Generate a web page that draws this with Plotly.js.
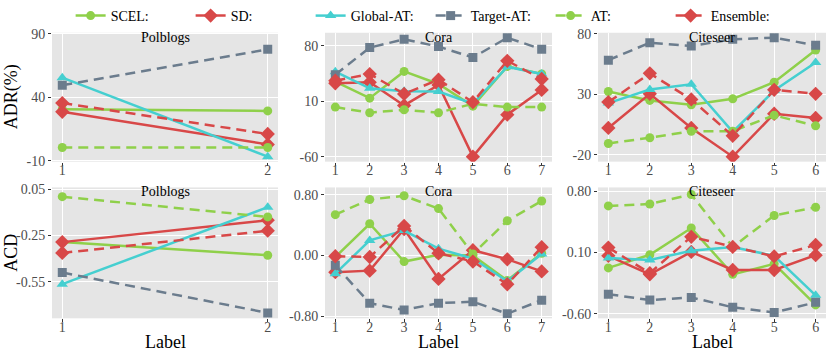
<!DOCTYPE html>
<html>
<head>
<meta charset="utf-8">
<script src="https://cdn.plot.ly/plotly-3.0.1.min.js"></script>
<style>
  html, body { margin: 0; padding: 0; background: #fff; }
  #chart { width: 831px; height: 353px; }
</style>
</head>
<body>
<div id="chart"></div>
<script>
// x labels per dataset
const polLabels = [1, 2];
const coraLabels = [1, 2, 3, 4, 5, 6, 7];
const citeLabels = [1, 2, 3, 4, 5, 6];

// ADR(%) - Polblogs
const adrPolScel = [30.5, 29.2];
const adrPolSd = [28.5, 2.8];
const adrPolGlobal = [55.4, -6.9];
const adrPolTarget = [49.5, 77.7];
const adrPolAt = [0.3, 0.3];
const adrPolEns = [35.4, 11.0];

// ADR(%) - Cora
const adrCoraScel = [34.9, 14.0, 47.8, 31.9, 3.9, 54.1, 44.5];
const adrCoraSd = [32.8, 34.0, 4.8, 30.7, -60.0, -6.9, 24.4];
const adrCoraGlobal = [47.4, 26.5, 22.7, 22.3, 6.9, 53.7, 44.5];
const adrCoraTarget = [43.6, 77.9, 88.4, 79.2, 65.4, 90.4, 75.8];
const adrCoraAt = [2.7, -4.4, -0.7, -4.4, 6.9, 2.7, 2.7];
const adrCoraEns = [36.1, 44.5, 19.4, 37.4, 8.9, 61.2, 38.2];

// ADR(%) - Citeseer
const adrCiteScel = [32.3, 25.0, 21.4, 26.3, 40.0, 66.6];
const adrCiteSd = [2.3, 30.4, 2.3, -21.4, 14.0, 10.5];
const adrCiteGlobal = [22.8, 34.0, 38.3, -0.9, 33.1, 56.3];
const adrCiteTarget = [58.2, 72.6, 69.9, 75.4, 76.7, 70.5];
const adrCiteAt = [-10.5, -5.8, -0.4, -0.4, 12.7, 4.0];
const adrCiteEns = [23.6, 47.3, 25.8, -4.2, 33.7, 30.4];

// ACD - Polblogs
const acdPolScel = [-0.293, -0.378];
const acdPolSd = [-0.293, -0.151];
const acdPolGlobal = [-0.565, -0.067];
const acdPolTarget = [-0.49, -0.751];
const acdPolAt = [0.001, -0.13];
const acdPolEns = [-0.363, -0.219];

// ACD - Cora
const acdCoraScel = [-0.02, 0.42, -0.08, 0.01, 0.0, -0.33, 0.03];
const acdCoraSd = [-0.22, -0.20, 0.35, -0.31, 0.07, -0.05, -0.21];
const acdCoraGlobal = [-0.24, 0.20, 0.33, 0.09, -0.04, -0.34, 0.02];
const acdCoraTarget = [-0.13, -0.63, -0.72, -0.63, -0.61, -0.77, -0.59];
const acdCoraAt = [0.54, 0.74, 0.79, 0.62, 0.02, 0.46, 0.72];
const acdCoraEns = [-0.01, -0.02, 0.39, 0.03, -0.08, -0.38, 0.11];

// ACD - Citeseer
const acdCiteScel = [-0.076, 0.074, 0.38, -0.15, -0.03, -0.50];
const acdCiteSd = [0.062, -0.15, 0.107, -0.10, -0.10, 0.07];
const acdCiteGlobal = [0.036, 0.014, 0.12, 0.164, 0.062, -0.39];
const acdCiteTarget = [-0.377, -0.444, -0.414, -0.527, -0.587, -0.47];
const acdCiteAt = [0.633, 0.655, 0.764, 0.164, 0.524, 0.618];
const acdCiteEns = [0.156, -0.136, 0.28, 0.164, 0.055, 0.186];

// y tick labels
const adrPolTicks = [-10, 40, 90];
const adrCoraTicks = [-60, 10, 80];
const adrCiteTicks = [-20, 30, 80];
const acdPolTicks = ['-0.55', '-0.25', '0.05'];
const acdCoraTicks = ['-0.80', '0.00', '0.80'];
const acdCiteTicks = ['-0.60', '0.10', '0.80'];

const datasetNames = ['Polblogs', 'Cora', 'Citeseer'];

const GREEN = '#8fd04a';
const RED = '#d84848';
const CYAN = '#45cfd0';
const SLATE = '#6b7c8d';
const SERIF = '"Liberation Serif", "DejaVu Serif", serif';

const seriesStyle = [
    { name: 'SCEL:', color: GREEN, dash: 'solid', symbol: 'circle', size: 9 },
    { name: 'SD:', color: RED, dash: 'solid', symbol: 'diamond', size: 11 },
    { name: 'Global-AT:', color: CYAN, dash: 'solid', symbol: 'triangle-up', size: 10 },
    { name: 'Target-AT:', color: SLATE, dash: '10px,6px', symbol: 'square', size: 9 },
    { name: 'AT:', color: GREEN, dash: '10px,6px', symbol: 'circle', size: 9 },
    { name: 'Ensemble:', color: RED, dash: '10px,6px', symbol: 'diamond', size: 11 }
];

// panels: [xLabels, series in style order]
const panels = [
    [polLabels, [adrPolScel, adrPolSd, adrPolGlobal, adrPolTarget, adrPolAt, adrPolEns]],
    [coraLabels, [adrCoraScel, adrCoraSd, adrCoraGlobal, adrCoraTarget, adrCoraAt, adrCoraEns]],
    [citeLabels, [adrCiteScel, adrCiteSd, adrCiteGlobal, adrCiteTarget, adrCiteAt, adrCiteEns]],
    [polLabels, [acdPolScel, acdPolSd, acdPolGlobal, acdPolTarget, acdPolAt, acdPolEns]],
    [coraLabels, [acdCoraScel, acdCoraSd, acdCoraGlobal, acdCoraTarget, acdCoraAt, acdCoraEns]],
    [citeLabels, [acdCiteScel, acdCiteSd, acdCiteGlobal, acdCiteTarget, acdCiteAt, acdCiteEns]]
];

const traces = [];
panels.forEach(([xs, series], p) => {
    const suffix = p === 0 ? '' : String(p + 1);
    series.forEach((ys, s) => {
        const st = seriesStyle[s];
        traces.push({
            x: xs,
            y: ys,
            type: 'scatter',
            mode: 'lines+markers',
            name: st.name,
            legendgroup: st.name,
            showlegend: p === 0,
            xaxis: 'x' + suffix,
            yaxis: 'y' + suffix,
            line: { color: st.color, width: 2.5, dash: st.dash },
            marker: { color: st.color, symbol: st.symbol, size: st.size }
        });
    });
});

const W = 831, H = 353;
const colPx = [[52, 278], [325, 552], [598, 826]];
const rowPx = [[30, 160], [186, 318]];
const xRanges = [[0.95, 2.05], [0.7, 7.3], [0.75, 6.25]];
const yRanges = [[-10.8, 90.8], [-66.3, 96.7], [-25.5, 80.8], [-0.786, 0.061], [-0.83, 0.9], [-0.653, 0.845]];
const yTickVals = [adrPolTicks, adrCoraTicks, adrCiteTicks,
    acdPolTicks.map(Number), acdCoraTicks.map(Number), acdCiteTicks.map(Number)];
const yTickText = [adrPolTicks.map(String), adrCoraTicks.map(String), adrCiteTicks.map(String),
    acdPolTicks, acdCoraTicks, acdCiteTicks];
const xTicks = [polLabels, coraLabels, citeLabels];

const layout = {
    width: W,
    height: H,
    margin: { l: 0, r: 0, t: 0, b: 0 },
    paper_bgcolor: '#ffffff',
    plot_bgcolor: '#e5e5e5',
    font: { family: SERIF, color: '#000' },
    showlegend: true,
    legend: {
        orientation: 'h',
        x: 0.085,
        xanchor: 'left',
        y: 1 - 13 / H,
        yanchor: 'middle',
        font: { family: SERIF, size: 14, color: '#000' },
        entrywidth: 75,
        entrywidthmode: 'pixels',
        bgcolor: 'rgba(0,0,0,0)'
    },
    annotations: [],
    hovermode: false
};

for (let p = 0; p < 6; p++) {
    const col = p % 3, row = Math.floor(p / 3);
    const suffix = p === 0 ? '' : String(p + 1);
    const [x0, x1] = colPx[col];
    const [y0, y1] = rowPx[row];
    layout['xaxis' + suffix] = {
        domain: [x0 / W, x1 / W],
        anchor: 'y' + suffix,
        range: xRanges[col],
        tickvals: xTicks[col],
        ticktext: xTicks[col].map(String),
        ticks: 'outside',
        ticklen: 3,
        tickcolor: '#333',
        ticklabelstandoff: -7,
        showgrid: true,
        gridcolor: '#ffffff',
        gridwidth: 1,
        zeroline: false,
        showline: false,
        tickfont: { family: SERIF, size: 14, color: '#4d4d4d' },
        fixedrange: true
    };
    layout['yaxis' + suffix] = {
        domain: [1 - y1 / H, 1 - y0 / H],
        anchor: 'x' + suffix,
        range: yRanges[p],
        tickvals: yTickVals[p],
        ticktext: yTickText[p],
        ticks: 'outside',
        ticklen: 3,
        tickcolor: '#333',
        showgrid: true,
        gridcolor: '#ffffff',
        gridwidth: 1,
        zeroline: false,
        showline: false,
        tickfont: { family: SERIF, size: 14, color: '#4d4d4d' },
        fixedrange: true
    };
    layout.annotations.push({
        text: datasetNames[col],
        xref: 'x' + suffix + ' domain',
        yref: 'y' + suffix + ' domain',
        x: 0.5,
        y: 1.04,
        xanchor: 'center',
        yanchor: 'top',
        showarrow: false,
        font: { family: SERIF, size: 14, color: '#000' }
    });
    if (row === 1) {
        layout.annotations.push({
            text: 'Label',
            xref: 'x' + suffix + ' domain',
            yref: 'paper',
            x: 0.5,
            y: -0.004,
            xanchor: 'center',
            yanchor: 'bottom',
            showarrow: false,
            font: { family: SERIF, size: 18, color: '#000' }
        });
    }
}

// y axis titles
layout.annotations.push({
    text: 'ADR(%)', xref: 'paper', yref: 'paper',
    x: 11 / W, y: 1 - 95 / H, textangle: -90,
    xanchor: 'center', yanchor: 'middle', showarrow: false,
    font: { family: SERIF, size: 18, color: '#000' }
});
layout.annotations.push({
    text: 'ACD', xref: 'paper', yref: 'paper',
    x: 11 / W, y: 1 - 252 / H, textangle: -90,
    xanchor: 'center', yanchor: 'middle', showarrow: false,
    font: { family: SERIF, size: 18, color: '#000' }
});

Plotly.newPlot('chart', traces, layout, { displayModeBar: false, staticPlot: true });
</script>
</body>
</html>
